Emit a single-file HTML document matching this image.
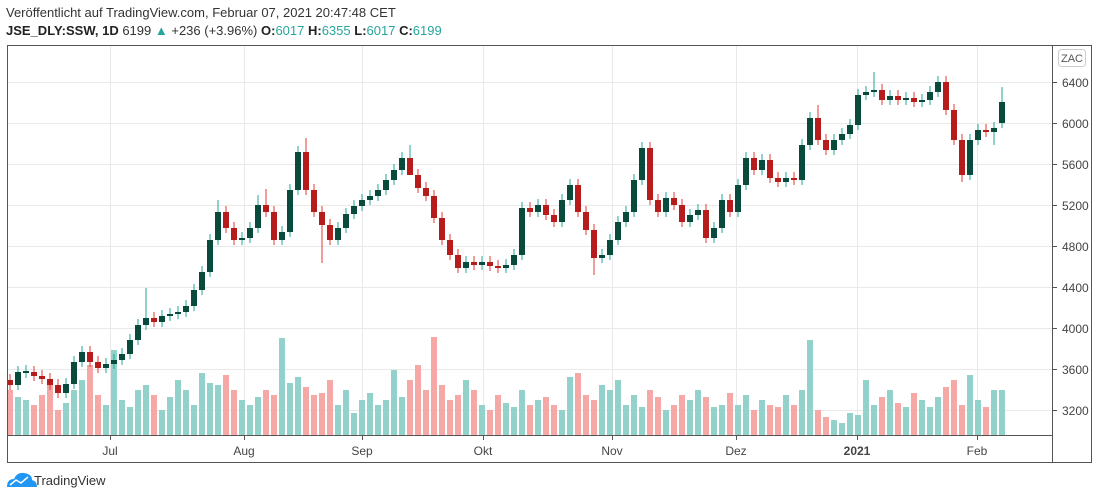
<!DOCTYPE html><html><head><meta charset="utf-8"><style>
body{margin:0;background:#fff;width:1100px;height:499px;overflow:hidden;font-family:"Liberation Sans",sans-serif}
#hd{position:absolute;left:6px;top:4px;font-size:13px;color:#333;line-height:18px}
#hd b{color:#222}.g{color:#26a69a}
</style></head><body>
<div id="hd">Veröffentlicht auf TradingView.com, Februar 07, 2021 20:47:48 CET<br><b>JSE_DLY:SSW, 1D</b> 6199 <span class="g">▲</span> +236 (+3.96%) <b>O:</b><span class="g">6017</span> <b>H:</b><span class="g">6355</span> <b>L:</b><span class="g">6017</span> <b>C:</b><span class="g">6199</span></div>
<svg width="1100" height="499" style="position:absolute;left:0;top:0" xmlns="http://www.w3.org/2000/svg">
<g stroke="#e9e9e9">
<line x1="8" x2="1052" y1="82.5" y2="82.5"/><line x1="8" x2="1052" y1="123.5" y2="123.5"/><line x1="8" x2="1052" y1="164.5" y2="164.5"/><line x1="8" x2="1052" y1="205.5" y2="205.5"/><line x1="8" x2="1052" y1="246.5" y2="246.5"/><line x1="8" x2="1052" y1="287.5" y2="287.5"/><line x1="8" x2="1052" y1="328.5" y2="328.5"/><line x1="8" x2="1052" y1="369.5" y2="369.5"/><line x1="8" x2="1052" y1="410.5" y2="410.5"/>
<line x1="110.5" x2="110.5" y1="46" y2="435"/><line x1="244.5" x2="244.5" y1="46" y2="435"/><line x1="362.5" x2="362.5" y1="46" y2="435"/><line x1="483.5" x2="483.5" y1="46" y2="435"/><line x1="612.5" x2="612.5" y1="46" y2="435"/><line x1="736.5" x2="736.5" y1="46" y2="435"/><line x1="857.5" x2="857.5" y1="46" y2="435"/><line x1="977.5" x2="977.5" y1="46" y2="435"/>
</g>
<path fill="#92d2cb" d="M15 397h6V435h-6zM23 400h6V435h-6zM63 403h6V435h-6zM71 390h6V435h-6zM79 380h6V435h-6zM103 405h6V435h-6zM111 350h6V435h-6zM119 400h6V435h-6zM127 407h6V435h-6zM135 390h6V435h-6zM143 385h6V435h-6zM159 410h6V435h-6zM167 397h6V435h-6zM175 380h6V435h-6zM183 390h6V435h-6zM191 405h6V435h-6zM199 373h6V435h-6zM207 383h6V435h-6zM215 385h6V435h-6zM239 400h6V435h-6zM247 405h6V435h-6zM255 397h6V435h-6zM279 338h6V435h-6zM287 383h6V435h-6zM295 377h6V435h-6zM335 405h6V435h-6zM343 390h6V435h-6zM351 413h6V435h-6zM359 400h6V435h-6zM367 393h6V435h-6zM375 405h6V435h-6zM383 400h6V435h-6zM391 370h6V435h-6zM399 397h6V435h-6zM463 380h6V435h-6zM479 405h6V435h-6zM503 403h6V435h-6zM511 407h6V435h-6zM519 390h6V435h-6zM535 400h6V435h-6zM559 410h6V435h-6zM567 377h6V435h-6zM599 385h6V435h-6zM607 390h6V435h-6zM615 380h6V435h-6zM623 405h6V435h-6zM631 395h6V435h-6zM639 407h6V435h-6zM663 410h6V435h-6zM687 400h6V435h-6zM695 390h6V435h-6zM711 407h6V435h-6zM719 405h6V435h-6zM735 405h6V435h-6zM743 395h6V435h-6zM759 400h6V435h-6zM783 395h6V435h-6zM799 390h6V435h-6zM807 340h6V435h-6zM831 420h6V435h-6zM839 423h6V435h-6zM847 413h6V435h-6zM855 415h6V435h-6zM863 380h6V435h-6zM871 405h6V435h-6zM887 390h6V435h-6zM903 407h6V435h-6zM919 400h6V435h-6zM927 407h6V435h-6zM935 397h6V435h-6zM967 375h6V435h-6zM975 400h6V435h-6zM991 390h6V435h-6zM999 390h6V435h-6z"/>
<path fill="#f6a8a6" d="M7 390h6V435h-6zM31 405h6V435h-6zM39 395h6V435h-6zM47 385h6V435h-6zM55 410h6V435h-6zM87 365h6V435h-6zM95 395h6V435h-6zM151 395h6V435h-6zM223 375h6V435h-6zM231 390h6V435h-6zM263 390h6V435h-6zM271 395h6V435h-6zM303 387h6V435h-6zM311 395h6V435h-6zM319 393h6V435h-6zM327 380h6V435h-6zM407 380h6V435h-6zM415 365h6V435h-6zM423 390h6V435h-6zM431 337h6V435h-6zM439 385h6V435h-6zM447 400h6V435h-6zM455 395h6V435h-6zM471 390h6V435h-6zM487 410h6V435h-6zM495 395h6V435h-6zM527 405h6V435h-6zM543 397h6V435h-6zM551 405h6V435h-6zM575 373h6V435h-6zM583 395h6V435h-6zM591 400h6V435h-6zM647 390h6V435h-6zM655 397h6V435h-6zM671 405h6V435h-6zM679 395h6V435h-6zM703 397h6V435h-6zM727 393h6V435h-6zM751 410h6V435h-6zM767 405h6V435h-6zM775 407h6V435h-6zM791 405h6V435h-6zM815 410h6V435h-6zM823 417h6V435h-6zM879 397h6V435h-6zM895 403h6V435h-6zM911 393h6V435h-6zM943 387h6V435h-6zM951 380h6V435h-6zM959 405h6V435h-6zM983 407h6V435h-6z"/>
<path stroke="#26a69a" fill="none" d="M18 366V390M26 365V378M66 378V398M74 356V389M82 346V367M106 358V373M114 354V369M122 348V365M130 334V359M138 319V345M146 288V330M162 310V327M170 308V321M178 306V319M186 300V317M194 284V311M202 266V295M210 234V277M218 200V245M242 232V245M250 222V243M258 195V233M282 226V245M290 184V237M298 146V195M338 222V245M346 208V233M354 200V219M362 194V211M370 190V205M378 184V201M386 174V195M394 164V185M402 152V175M410 145V160M466 256V273M482 256V270M506 259V273M514 249V270M522 202V260M538 199V217M562 194V227M570 179V205M602 249V263M610 234V260M618 216V245M626 206V227M634 174V217M642 142V185M666 192V217M690 209V227M698 204V220M714 222V243M722 194V233M738 179V217M746 152V190M762 154V175M786 172V187M802 139V185M810 112V150M834 134V155M842 128V145M850 119V139M858 89V130M866 86V100M874 72V97M890 90V105M906 92V105M922 94V107M930 86V105M938 76V97M970 134V180M978 124V145M994 122V145M1002 87V128"/>
<path stroke="#e53935" fill="none" d="M10 374V390M34 366V381M42 370V384M50 373V390M58 379V398M90 346V367M98 356V373M154 312V327M226 206V233M234 222V245M266 189V217M274 206V245M306 138V195M314 184V217M322 206V263M330 219V245M418 169V193M426 182V201M434 190V223M442 212V245M450 234V260M458 249V273M474 256V270M490 256V271M498 260V273M530 202V217M546 199V220M554 209V227M578 179V217M586 206V235M594 224V275M650 142V205M658 194V217M674 192V210M682 199V227M706 204V243M730 194V217M754 152V175M770 154V183M778 172V187M794 172V185M818 105V145M826 134V155M882 84V105M898 90V105M914 92V107M946 76V115M954 104V145M962 134V182M986 124V137"/>
<path fill="#0a4a3c" d="M15 372h6V385h-6zM23 371h6V373h-6zM63 384h6V393h-6zM71 362h6V384h-6zM79 352h6V362h-6zM103 364h6V368h-6zM111 360h6V364h-6zM119 354h6V360h-6zM127 340h6V354h-6zM135 325h6V340h-6zM143 318h6V325h-6zM159 316h6V322h-6zM167 314h6V316h-6zM175 312h6V314h-6zM183 306h6V312h-6zM191 290h6V306h-6zM199 272h6V290h-6zM207 240h6V272h-6zM215 212h6V240h-6zM239 238h6V240h-6zM247 228h6V238h-6zM255 205h6V228h-6zM279 232h6V240h-6zM287 190h6V232h-6zM295 152h6V190h-6zM335 228h6V240h-6zM343 214h6V228h-6zM351 206h6V214h-6zM359 200h6V206h-6zM367 196h6V200h-6zM375 190h6V196h-6zM383 180h6V190h-6zM391 170h6V180h-6zM399 158h6V170h-6zM463 262h6V268h-6zM479 262h6V265h-6zM503 265h6V268h-6zM511 255h6V265h-6zM519 208h6V255h-6zM535 205h6V212h-6zM559 200h6V222h-6zM567 185h6V200h-6zM599 255h6V258h-6zM607 240h6V255h-6zM615 222h6V240h-6zM623 212h6V222h-6zM631 180h6V212h-6zM639 148h6V180h-6zM663 198h6V212h-6zM687 215h6V222h-6zM695 210h6V215h-6zM711 228h6V238h-6zM719 200h6V228h-6zM735 185h6V212h-6zM743 158h6V185h-6zM759 160h6V170h-6zM783 178h6V182h-6zM799 145h6V180h-6zM807 118h6V145h-6zM831 140h6V150h-6zM839 134h6V140h-6zM847 125h6V134h-6zM855 95h6V125h-6zM863 92h6V95h-6zM871 90h6V92h-6zM887 96h6V100h-6zM903 98h6V100h-6zM919 100h6V102h-6zM927 92h6V100h-6zM935 82h6V92h-6zM967 140h6V175h-6zM975 130h6V140h-6zM991 128h6V132h-6zM999 102h6V123h-6z"/>
<path fill="#b71c1c" d="M7 380h6V385h-6zM31 372h6V376h-6zM39 376h6V379h-6zM47 379h6V385h-6zM55 385h6V393h-6zM87 352h6V362h-6zM95 362h6V368h-6zM151 318h6V322h-6zM223 212h6V228h-6zM231 228h6V240h-6zM263 205h6V212h-6zM271 212h6V240h-6zM303 152h6V190h-6zM311 190h6V212h-6zM319 212h6V225h-6zM327 225h6V240h-6zM407 158h6V175h-6zM415 175h6V188h-6zM423 188h6V196h-6zM431 196h6V218h-6zM439 218h6V240h-6zM447 240h6V255h-6zM455 255h6V268h-6zM471 262h6V265h-6zM487 262h6V266h-6zM495 266h6V268h-6zM527 208h6V212h-6zM543 205h6V215h-6zM551 215h6V222h-6zM575 185h6V212h-6zM583 212h6V230h-6zM591 230h6V258h-6zM647 148h6V200h-6zM655 200h6V212h-6zM671 198h6V205h-6zM679 205h6V222h-6zM703 210h6V238h-6zM727 200h6V212h-6zM751 158h6V170h-6zM767 160h6V178h-6zM775 178h6V182h-6zM791 178h6V180h-6zM815 118h6V140h-6zM823 140h6V150h-6zM879 90h6V100h-6zM895 96h6V100h-6zM911 98h6V102h-6zM943 82h6V110h-6zM951 110h6V140h-6zM959 140h6V175h-6zM983 130h6V132h-6z"/>
<rect x="7.5" y="45.5" width="1084" height="417" fill="none" stroke="#555"/>
<line x1="1052.5" x2="1052.5" y1="45" y2="462" stroke="#555"/>
<line x1="8" x2="1052" y1="435.5" y2="435.5" stroke="#555"/>
<g stroke="#555"><line x1="1052" x2="1057" y1="82.5" y2="82.5"/><line x1="1052" x2="1057" y1="123.5" y2="123.5"/><line x1="1052" x2="1057" y1="164.5" y2="164.5"/><line x1="1052" x2="1057" y1="205.5" y2="205.5"/><line x1="1052" x2="1057" y1="246.5" y2="246.5"/><line x1="1052" x2="1057" y1="287.5" y2="287.5"/><line x1="1052" x2="1057" y1="328.5" y2="328.5"/><line x1="1052" x2="1057" y1="369.5" y2="369.5"/><line x1="1052" x2="1057" y1="410.5" y2="410.5"/>
<line x1="110.5" x2="110.5" y1="435" y2="440"/><line x1="244.5" x2="244.5" y1="435" y2="440"/><line x1="362.5" x2="362.5" y1="435" y2="440"/><line x1="483.5" x2="483.5" y1="435" y2="440"/><line x1="612.5" x2="612.5" y1="435" y2="440"/><line x1="736.5" x2="736.5" y1="435" y2="440"/><line x1="857.5" x2="857.5" y1="435" y2="440"/><line x1="977.5" x2="977.5" y1="435" y2="440"/></g>
<g font-size="12" fill="#444">
<text x="1062" y="87">6400</text><text x="1062" y="128">6000</text><text x="1062" y="169">5600</text><text x="1062" y="210">5200</text><text x="1062" y="251">4800</text><text x="1062" y="292">4400</text><text x="1062" y="333">4000</text><text x="1062" y="374">3600</text><text x="1062" y="415">3200</text>
</g>
<g font-size="12" fill="#444" text-anchor="middle">
<text x="110" y="455">Jul</text><text x="244" y="455">Aug</text><text x="362" y="455">Sep</text><text x="483" y="455">Okt</text><text x="612" y="455">Nov</text><text x="736" y="455">Dez</text><text x="857" y="455" font-weight="bold">2021</text><text x="977" y="455">Feb</text>
</g>
<rect x="1058.5" y="49.5" width="27" height="17" rx="3" fill="#fff" stroke="#ccc"/><text x="1072" y="62" font-size="11" fill="#555" text-anchor="middle">ZAC</text>
<path d="M7 487 q0-8 7-8 q3-7 10-6 q8 1 8 7 q5 1 5 7 z" fill="#2196f3"/><path d="M10 485 l6-5 5 3 7-6" stroke="#fff" stroke-width="1.5" fill="none"/>
<text x="34" y="485" font-size="13" fill="#333">TradingView</text>
</svg>
</body></html>
